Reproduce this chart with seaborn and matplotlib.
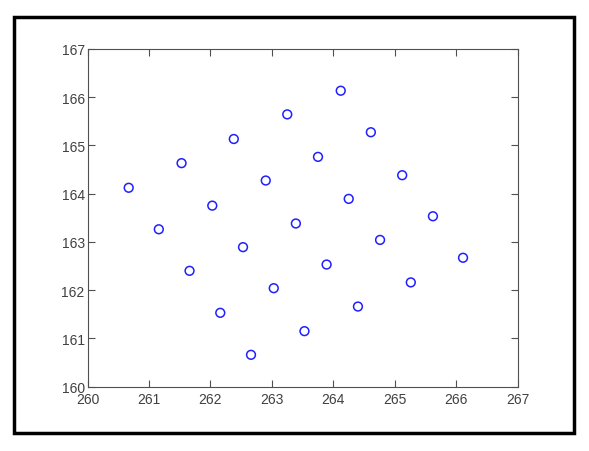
import numpy as np
import pandas as pd
import matplotlib
matplotlib.use("Agg")
import matplotlib.pyplot as plt
from matplotlib.patches import Rectangle
import seaborn as sns

# points, diagonal by diagonal
x_vals = [260.67, 261.53, 262.38, 263.25, 264.12,
          261.16, 262.03, 262.90, 263.75, 264.61,
          261.66, 262.53, 263.39, 264.25, 265.12,
          262.16, 263.03, 263.89, 264.76, 265.62,
          262.66, 263.53, 264.40, 265.26, 266.11]
y_vals = [164.12, 164.63, 165.13, 165.64, 166.13,
          163.26, 163.75, 164.27, 164.76, 165.27,
          162.40, 162.89, 163.38, 163.89, 164.38,
          161.53, 162.04, 162.53, 163.04, 163.53,
          160.66, 161.15, 161.66, 162.16, 162.67]
x_ticks = [260, 261, 262, 263, 264, 265, 266, 267]
y_ticks = [160, 161, 162, 163, 164, 165, 166, 167]

df = pd.DataFrame({"x": x_vals, "y": y_vals})

sns.set_theme(style="white")
plt.rcParams["font.family"] = ["Liberation Sans", "DejaVu Sans"]

fig = plt.figure(figsize=(5.89, 4.52), dpi=100)
ax = fig.add_axes([0.1486, 0.1423, 0.879 - 0.1486, 0.890 - 0.1423])

sns.scatterplot(data=df, x="x", y="y", ax=ax, marker="o", s=40,
                facecolors="none", edgecolors="#2020ff", linewidth=1.1)

ax.set_xlim(260, 267)
ax.set_ylim(160, 167)
ax.set_xticks(x_ticks)
ax.set_yticks(y_ticks)
ax.set_xlabel("")
ax.set_ylabel("")
ax.tick_params(direction="in", length=5, width=0.8, color="#505050",
               labelsize=10, labelcolor="#404040", top=True, right=True,
               bottom=True, left=True)
ax.tick_params(axis="x", pad=4)
ax.tick_params(axis="y", pad=2)
for sp in ax.spines.values():
    sp.set_visible(True)
    sp.set_color("#505050")
    sp.set_linewidth(0.8)

# thick frame round the whole figure
fig.patches.append(Rectangle((14 / 589, 1 - 434 / 452), (574 - 14) / 589, (434 - 18) / 452,
                             transform=fig.transFigure, fill=False,
                             edgecolor="black", linewidth=2.5))

fig.savefig("out.png", dpi=100)
